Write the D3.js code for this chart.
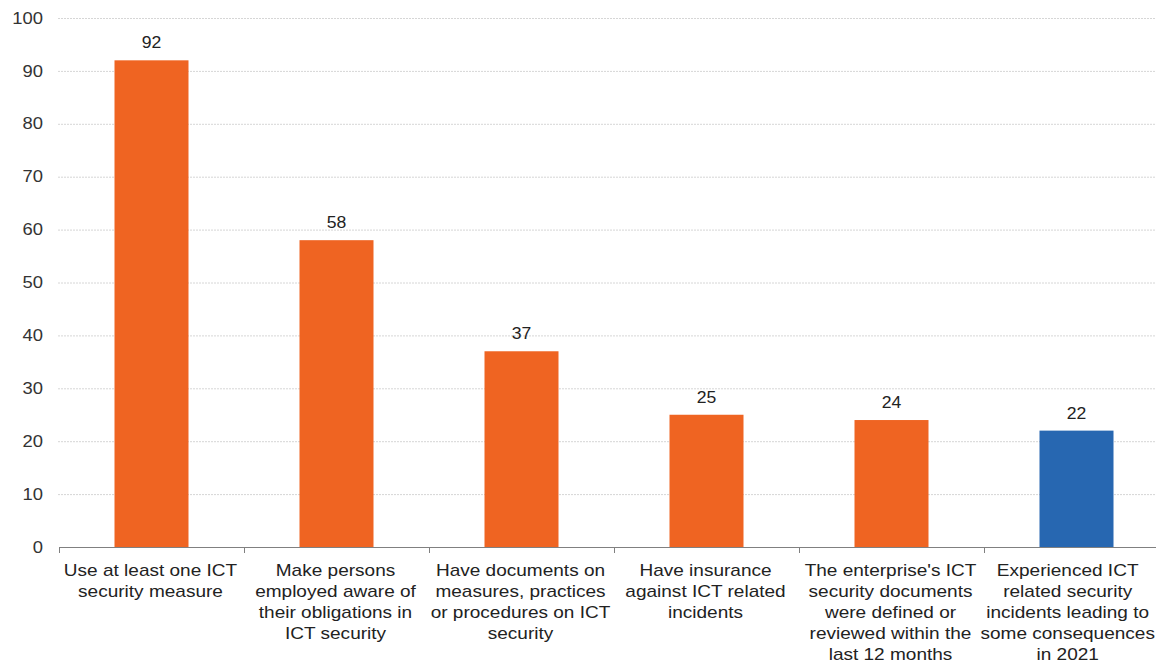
<!DOCTYPE html>
<html><head><meta charset="utf-8">
<script src="https://cdn.jsdelivr.net/npm/d3@7"></script>
<style>body{margin:0;background:#fff}svg{display:block}</style>
</head><body>
<script>
const categories = [
  ["Use at least one ICT", "security measure"],
  ["Make persons", "employed aware of", "their obligations in", "ICT security"],
  ["Have documents on", "measures, practices", "or procedures on ICT", "security"],
  ["Have insurance", "against ICT related", "incidents"],
  ["The enterprise's ICT", "security documents", "were defined or", "reviewed within the", "last 12 months"],
  ["Experienced ICT", "related security", "incidents leading to", "some consequences", "in 2021"]
];
const values = [92, 58, 37, 25, 24, 22];
const barColors = ["#EF6422", "#EF6422", "#EF6422", "#EF6422", "#EF6422", "#2767B1"];
const yTicks = [0, 10, 20, 30, 40, 50, 60, 70, 80, 90, 100];

const W = 1156, H = 666;
const svg = d3.select("body").append("svg").attr("width", W).attr("height", H);
const font = "Liberation Sans, Arial, sans-serif";

const y = d3.scaleLinear().domain([0, 100]).range([547, 18]);
const x = d3.scaleBand().domain(d3.range(values.length)).range([59, 59 + 185 * 6]).paddingInner(0.6).paddingOuter(0.3);

// gridlines
svg.append("g").selectAll("line").data(yTicks.filter(d => d > 0)).join("line")
  .attr("x1", 58).attr("x2", W).attr("y1", d => y(d) + 0.5).attr("y2", d => y(d) + 0.5)
  .attr("stroke", "#d6d6d6").attr("stroke-dasharray", "2,1").attr("stroke-width", 1);

// y axis labels
svg.append("g").selectAll("text").data(yTicks).join("text")
  .attr("transform", d => `translate(43,${y(d)}) scale(1.15,1)`).attr("dy", "0.35em").attr("text-anchor", "end")
  .attr("font-family", font).attr("font-size", 16).attr("fill", "#333").text(d => d);

// bars
svg.append("g").selectAll("rect").data(values).join("rect")
  .attr("x", (d, i) => x(i)).attr("width", x.bandwidth())
  .attr("y", d => y(d)).attr("height", d => y(0) - y(d))
  .attr("fill", (d, i) => barColors[i]);

// value labels
svg.append("g").selectAll("text").data(values).join("text")
  .attr("transform", (d, i) => `translate(${x(i) + x.bandwidth() / 2},${y(d) - 12}) scale(1.1,1)`)
  .attr("text-anchor", "middle").attr("font-family", font).attr("font-size", 16).attr("fill", "#222")
  .text(d => d);

// x axis line and ticks
const axisG = svg.append("g");
axisG.append("line").attr("x1", 59).attr("x2", W).attr("y1", y(0) + 0.5).attr("y2", y(0) + 0.5)
  .attr("stroke", "#808080").attr("stroke-width", 1);
const tickXs = d3.range(values.length + 1).map(i => 59 + 185 * i);
axisG.selectAll("line.t").data(tickXs).join("line").attr("class", "t")
  .attr("x1", d => d + 0.5).attr("x2", d => d + 0.5).attr("y1", y(0)).attr("y2", y(0) + 6)
  .attr("stroke", "#808080");

// category labels
const lab = svg.append("g").selectAll("text").data(categories).join("text")
  .attr("text-anchor", "middle").attr("font-family", font).attr("font-size", 17).attr("fill", "#222");
lab.each(function(lines, i) {
  const t = d3.select(this);
  lines.forEach((l, j) => {
    t.append("tspan").attr("x", 0).attr("y", 576 + j * 21).text(l);
  });
  let cx = 59 + 185 * i + 91.5;
  const half = this.getBBox().width * 1.12 / 2;
  if (cx + half > W - 1) cx = W - 1 - half;
  t.attr("transform", `translate(${cx},0) scale(1.12,1)`);
});
</script>
</body></html>
